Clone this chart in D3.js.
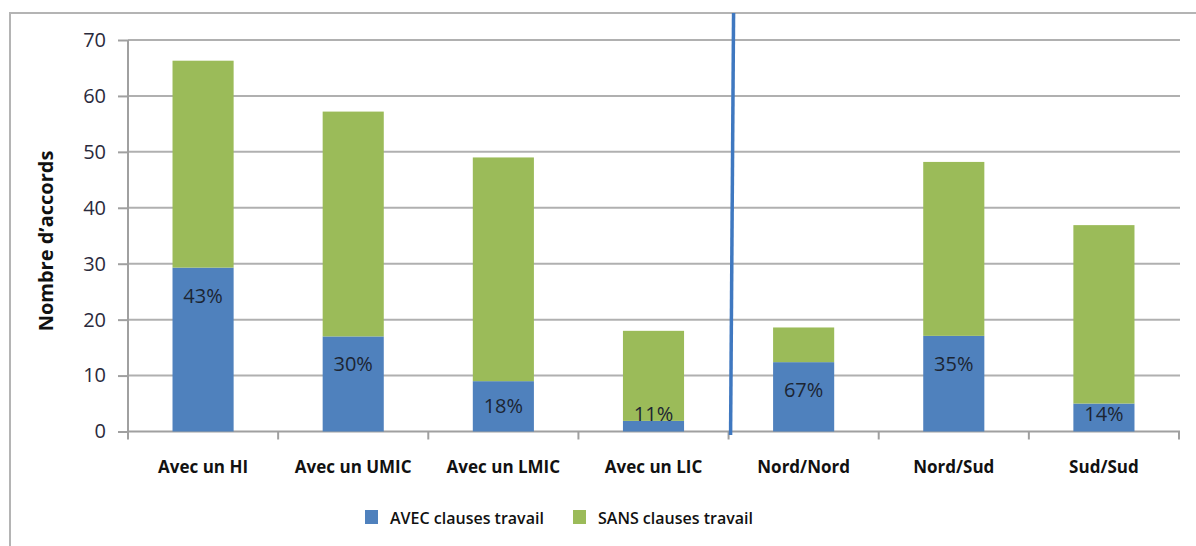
<!DOCTYPE html>
<html>
<head>
<meta charset="utf-8">
<script src="https://cdn.jsdelivr.net/npm/d3@7"></script>
<style>
  body { margin: 0; background: #fff; }
  svg text { font-family: "Open Sans", "Noto Sans", sans-serif; }
</style>
</head>
<body>
<div id="graphique"></div>
<script>
// Données du graphique
const categories = ["Avec un HI", "Avec un UMIC", "Avec un LMIC", "Avec un LIC", "Nord/Nord", "Nord/Sud", "Sud/Sud"];
const avecClauses = [29.3, 17, 9, 1.9, 12.4, 17.1, 5];
const sansClauses = [37, 40.2, 40, 16.1, 6.2, 31.1, 31.9];
const pourcentages = ["43%", "30%", "18%", "11%", "67%", "35%", "14%"];
const series = ["AVEC clauses travail", "SANS clauses travail"];
const couleurs = ["#4f81bd", "#9bbb59"];
const graduations = [0, 10, 20, 30, 40, 50, 60, 70];

const largeur = 1196, hauteur = 546;

const svg = d3.select("#graphique").append("svg")
    .attr("width", largeur)
    .attr("height", hauteur);

// Cadre extérieur (haut + gauche, le reste sort de l'image)
svg.append("path")
    .attr("d", "M10,546 L10,13 L1196,13")
    .attr("fill", "none")
    .attr("stroke", "#b4b4b4")
    .attr("stroke-width", 2);

// Échelles
const x = d3.scaleBand()
    .domain(categories)
    .range([128, 1179])
    .paddingInner(0.593)
    .paddingOuter(0.2965);

const y = d3.scaleLinear()
    .domain([0, 70])
    .range([431.5, 40]);

// Lignes de grille
svg.append("g")
    .selectAll("line")
    .data(graduations.slice(1))
    .enter().append("line")
    .attr("x1", 128)
    .attr("x2", 1180)
    .attr("y1", d => y(d))
    .attr("y2", d => y(d))
    .attr("stroke", "#b0b0b0")
    .attr("stroke-width", 2);

// Axe Y
const axeY = svg.append("g")
    .attr("transform", "translate(128,0)")
    .call(d3.axisLeft(y).tickValues(graduations).tickSize(10).tickPadding(12));
axeY.select(".domain").attr("stroke", "#a0a0a0").attr("stroke-width", 2).attr("d", "M0,40V431.5");
axeY.selectAll(".tick line").attr("stroke", "#a0a0a0").attr("stroke-width", 2);
axeY.selectAll(".tick text")
    .attr("fill", "#2a2a3c")
    .style("font-size", "20px");

// Axe X
const pas = x.step();
const bordures = d3.range(categories.length + 1).map(i => 128 + i * pas);
svg.append("line")
    .attr("x1", 128).attr("x2", 1180)
    .attr("y1", y(0)).attr("y2", y(0))
    .attr("stroke", "#a0a0a0").attr("stroke-width", 2);
svg.append("g")
    .selectAll("line")
    .data(bordures)
    .enter().append("line")
    .attr("x1", d => d).attr("x2", d => d)
    .attr("y1", y(0)).attr("y2", y(0) + 8)
    .attr("stroke", "#a0a0a0").attr("stroke-width", 2);

svg.append("g")
    .selectAll("text")
    .data(categories)
    .enter().append("text")
    .attr("x", d => x(d) + x.bandwidth() / 2)
    .attr("y", 473)
    .attr("text-anchor", "middle")
    .style("font-size", "17px")
    .style("font-weight", "bold")
    .attr("fill", "#111")
    .text(d => d);

// Barres empilées
const empile = d3.stack().keys([0, 1])(categories.map((c, i) => ({ cat: c, 0: avecClauses[i], 1: sansClauses[i] })));

svg.append("g")
    .selectAll("g")
    .data(empile)
    .enter().append("g")
    .attr("fill", (d, i) => couleurs[i])
    .selectAll("rect")
    .data(d => d)
    .enter().append("rect")
    .attr("x", d => x(d.data.cat))
    .attr("width", x.bandwidth())
    .attr("y", d => y(d[1]))
    .attr("height", d => y(d[0]) - y(d[1]));

// Pourcentages dans les barres bleues
svg.append("g")
    .selectAll("text")
    .data(categories)
    .enter().append("text")
    .attr("x", d => x(d) + x.bandwidth() / 2)
    .attr("y", (d, i) => {
        const haut = y(avecClauses[i]);
        const milieu = (haut + y(0)) / 2;
        return Math.min(haut + 28, milieu, 414) + 7;
    })
    .attr("text-anchor", "middle")
    .style("font-size", "20px")
    .attr("fill", "#1c2533")
    .text((d, i) => pourcentages[i]);

// Ligne de séparation bleue
const separation = (x(categories[3]) + x.bandwidth() + x(categories[4])) / 2;
svg.append("line")
    .attr("x1", separation + 5).attr("y1", 13)
    .attr("x2", separation + 2).attr("y2", 435)
    .attr("stroke", "#3f78c0")
    .attr("stroke-width", 3.5);

// Titre de l'axe Y
svg.append("text")
    .attr("transform", "translate(53,241) rotate(-90)")
    .attr("text-anchor", "middle")
    .style("font-size", "20px")
    .style("font-weight", "bold")
    .attr("fill", "#111")
    .text("Nombre d\u2019accords");

// Légende
const legende = svg.append("g")
    .selectAll("g")
    .data(series)
    .enter().append("g")
    .attr("transform", (d, i) => `translate(${365 + i * 208},510)`);

legende.append("rect")
    .attr("width", 13)
    .attr("height", 14)
    .attr("fill", (d, i) => couleurs[i]);

legende.append("text")
    .attr("x", 25)
    .attr("y", 14)
    .style("font-size", "16px")
    .style("font-weight", 600)
    .attr("fill", "#111")
    .text(d => d);
</script>
</body>
</html>
